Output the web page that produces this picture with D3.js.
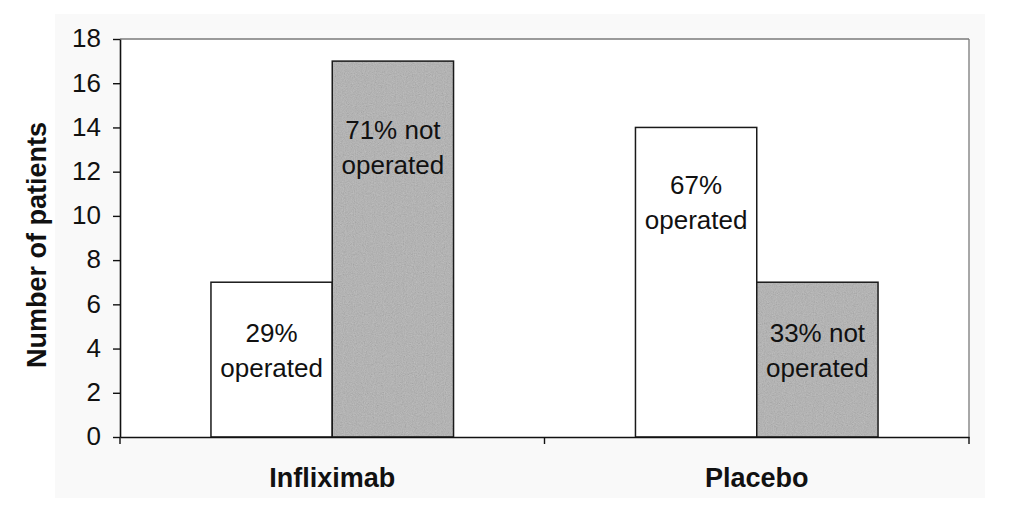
<!DOCTYPE html>
<html>
<head>
<meta charset="utf-8">
<script src="https://cdn.jsdelivr.net/npm/d3@7"></script>
<style>
  html, body { margin: 0; padding: 0; background: #ffffff; }
  svg { display: block; font-family: "Liberation Sans", Arial, sans-serif; }
</style>
</head>
<body>
<svg id="chart" width="1024" height="513"></svg>
<script>
// ---- data ----
const categories = ["Infliximab", "Placebo"];
const series = ["operated", "not operated"];
const operated = [7, 14];
const notOperated = [17, 7];
const barLabels = [
  ["29%", "operated"], ["71% not", "operated"],
  ["67%", "operated"], ["33% not", "operated"]
];
const labelAt = [4.3, 13.5, 11.0, 4.3];   // value (y units) of first label baseline
const yTicks = [0, 2, 4, 6, 8, 10, 12, 14, 16, 18];
const yTitle = "Number of patients";

// ---- layout ----
const svg = d3.select("#chart");
const L = 120, R = 969, T = 39, B = 437;

const defs = svg.append("defs");
const f = defs.append("filter").attr("id", "grain")
  .attr("x", 0).attr("y", 0).attr("width", 1).attr("height", 1);
f.append("feTurbulence").attr("type", "fractalNoise").attr("baseFrequency", 0.9)
  .attr("numOctaves", 2).attr("seed", 3).attr("result", "n");
f.append("feColorMatrix").attr("in", "n").attr("type", "matrix")
  .attr("values", "0.33 0.33 0.33 0 0  0.33 0.33 0.33 0 0  0.33 0.33 0.33 0 0  0 0 0 0 1")
  .attr("result", "g");
f.append("feComposite").attr("in", "g").attr("in2", "SourceGraphic").attr("operator", "in");

// background
svg.append("rect").attr("x", 55).attr("y", 14).attr("width", 930).attr("height", 484).attr("fill", "#f9f9f9");
svg.append("rect").attr("x", L).attr("y", T).attr("width", R - L).attr("height", B - T).attr("fill", "#ffffff");

const x0 = d3.scaleBand().domain(categories).range([L, R]).paddingInner(0).paddingOuter(0);
const x1 = d3.scaleBand().domain(series).range([0, x0.bandwidth()]).paddingInner(0).paddingOuter(0.75);
const y = d3.scaleLinear().domain([0, 18]).range([B, T]);

// top / right frame
svg.append("line").attr("x1", L).attr("x2", R).attr("y1", T).attr("y2", T).attr("stroke", "#7a7a7a").attr("stroke-width", 1.3);
svg.append("line").attr("x1", R).attr("x2", R).attr("y1", T).attr("y2", B).attr("stroke", "#7a7a7a").attr("stroke-width", 1.3);

// bars
const bars = [];
categories.forEach((c, i) => {
  bars.push({ cat: c, s: series[0], v: operated[i] });
  bars.push({ cat: c, s: series[1], v: notOperated[i] });
});
bars.forEach((d, i) => { d.label = barLabels[i]; d.at = labelAt[i]; });

const g = svg.append("g");
bars.forEach(d => {
  const bx = x0(d.cat) + x1(d.s), bw = x1.bandwidth();
  const isGray = d.s === series[1];
  g.append("rect").attr("x", bx).attr("y", y(d.v)).attr("width", bw).attr("height", y(0) - y(d.v))
    .attr("fill", isGray ? "#b0b0b0" : "#ffffff").attr("stroke", "none");
  if (isGray) {
    g.append("rect").attr("x", bx).attr("y", y(d.v)).attr("width", bw).attr("height", y(0) - y(d.v))
      .attr("fill", "#000").attr("filter", "url(#grain)").attr("opacity", 0.3);
  }
  g.append("rect").attr("x", bx).attr("y", y(d.v)).attr("width", bw).attr("height", y(0) - y(d.v))
    .attr("fill", "none").attr("stroke", "#1a1a1a").attr("stroke-width", 1.5);
  const t = g.append("text").attr("text-anchor", "middle").attr("font-size", 26).attr("fill", "#111");
  d.label.forEach((line, k) => {
    t.append("tspan").attr("x", bx + bw / 2).attr("y", y(d.at) + k * 35).text(line);
  });
});

// y axis
const yAxis = d3.axisLeft(y).tickValues(yTicks).tickSize(7).tickPadding(12).tickSizeOuter(0);
const ya = svg.append("g").attr("transform", `translate(${L},0)`).call(yAxis);
ya.select(".domain").attr("stroke", "#111").attr("stroke-width", 1.6);
ya.selectAll(".tick line").attr("stroke", "#111").attr("stroke-width", 1.4);
ya.selectAll(".tick text").attr("font-size", 26).attr("fill", "#111")
  .attr("font-family", "'Liberation Sans', Arial, sans-serif").attr("dy", "0.3em");

// x axis
const xAxis = d3.axisBottom(x0).tickValues([]).tickSizeOuter(0);
const xa = svg.append("g").attr("transform", `translate(0,${B})`).call(xAxis);
xa.select(".domain").attr("stroke", "#111").attr("stroke-width", 1.6);
const xTickPos = [L, ...categories.slice(1).map(c => x0(c)), R];
xa.selectAll("line.sep").data(xTickPos).join("line").attr("class", "sep")
  .attr("x1", d => d).attr("x2", d => d).attr("y1", 0).attr("y2", 7)
  .attr("stroke", "#111").attr("stroke-width", 1.4);
xa.selectAll("text.cat").data(categories).join("text").attr("class", "cat")
  .attr("x", d => x0(d) + x0.bandwidth() / 2).attr("y", 50)
  .attr("text-anchor", "middle").attr("font-size", 27).attr("font-weight", "bold")
  .attr("fill", "#111").attr("font-family", "'Liberation Sans', Arial, sans-serif").text(d => d);

// y title
svg.append("text").attr("transform", `translate(46,${(120 + 370) / 2}) rotate(-90)`)
  .attr("text-anchor", "middle").attr("font-size", 27).attr("font-weight", "bold")
  .attr("fill", "#111").text(yTitle);
</script>
</body>
</html>
